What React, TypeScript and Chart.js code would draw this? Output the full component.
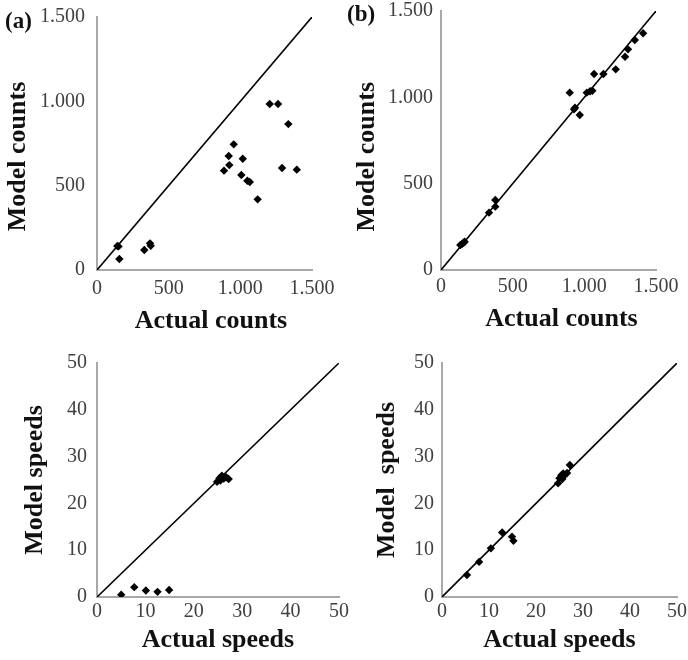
import React, { useEffect, useRef } from "react";
import { Chart, registerables } from "chart.js";

Chart.register(...registerables);

// ---- tick labels ----
const countTickValues = [0, 500, 1000, 1500];
const countTickLabels = ["0", "500", "1.000", "1.500"];
const speedTickValues = [0, 10, 20, 30, 40, 50];
const speedTickLabels = ["0", "10", "20", "30", "40", "50"];

// ---- panel (a): counts, before calibration ----
const aActualCounts = [142, 150, 156, 330, 370, 375, 886, 919, 923, 954, 1007, 1017, 1049, 1066, 1121, 1205, 1263, 1335, 1291, 1394];
const aModelCounts = [142, 140, 65, 119, 158, 144, 589, 676, 622, 745, 563, 660, 529, 522, 419, 984, 984, 865, 605, 595];

// ---- panel (b): counts, after calibration ----
const bActualCounts = [135, 148, 158, 165, 335, 379, 379, 898, 928, 935, 968, 1017, 1040, 1056, 1068, 1133, 1219, 1284, 1305, 1352, 1410];
const bModelCounts = [145, 152, 158, 164, 332, 367, 405, 1027, 931, 940, 898, 1027, 1035, 1038, 1135, 1135, 1162, 1235, 1278, 1332, 1371];

// ---- panel (c): speeds, before calibration ----
const cActualSpeeds = [5.0, 7.7, 10.1, 12.5, 14.9, 24.8, 25.3, 25.5, 25.8, 26.2, 26.7, 27.2];
const cModelSpeeds = [0.5, 2.1, 1.4, 1.1, 1.5, 24.6, 25.4, 24.9, 25.9, 25.3, 25.6, 25.2];

// ---- panel (d): speeds, after calibration ----
const dActualSpeeds = [5.3, 7.9, 10.4, 12.8, 14.9, 15.2, 24.7, 25.0, 25.4, 25.6, 25.8, 26.2, 26.6, 27.2];
const dModelSpeeds = [4.7, 7.5, 10.4, 13.8, 12.9, 12.0, 24.3, 25.4, 26.0, 25.2, 26.4, 26.1, 26.5, 28.2];

const W = 688;
const H = 660;
const FONT = '"Liberation Serif", "Times New Roman", serif';
const TITLE_SIZE = 26;
const TITLE_HALF = (TITLE_SIZE * 1.2) / 2;

type Panel = {
  xs: number[];
  ys: number[];
  max: number;
  step: number;
  tickValues: number[];
  tickLabels: string[];
  xTitle: string;
  yTitle: string;
  L: number;
  R: number;
  T: number;
  B: number;
  yTitleX: number;
  xTitleY: number;
  xTickPad: number;
  yTickPad: number;
};

const panels: Panel[] = [
  {
    xs: aActualCounts, ys: aModelCounts, max: 1500, step: 500,
    tickValues: countTickValues, tickLabels: countTickLabels,
    xTitle: "  Actual counts", yTitle: "Model counts    ",
    L: 97, R: 312, T: 17, B: 270, yTitleX: 18.5, xTitleY: 321, xTickPad: 7, yTickPad: 12,
  },
  {
    xs: bActualCounts, ys: bModelCounts, max: 1500, step: 500,
    tickValues: countTickValues, tickLabels: countTickLabels,
    xTitle: "    Actual counts", yTitle: "Model counts     ",
    L: 441, R: 656, T: 11, B: 270, yTitleX: 367, xTitleY: 319, xTickPad: 5, yTickPad: 8,
  },
  {
    xs: cActualSpeeds, ys: cModelSpeeds, max: 50, step: 10,
    tickValues: speedTickValues, tickLabels: speedTickLabels,
    xTitle: "Actual speeds", yTitle: "Model speeds",
    L: 97, R: 339, T: 363, B: 597, yTitleX: 35, xTitleY: 640, xTickPad: 3, yTickPad: 10,
  },
  {
    xs: dActualSpeeds, ys: dModelSpeeds, max: 50, step: 10,
    tickValues: speedTickValues, tickLabels: speedTickLabels,
    xTitle: "Actual speeds", yTitle: "Model  speeds",
    L: 442, R: 677, T: 363, B: 597, yTitleX: 387, xTitleY: 640, xTickPad: 3, yTickPad: 8,
  },
];

function zeroPadding(s: any) {
  s.paddingTop = 0;
  s.paddingBottom = 0;
  s.paddingLeft = 0;
  s.paddingRight = 0;
}

function makeConfig(p: Panel): any {
  const pts = p.xs.map((x, i) => ({ x, y: p.ys[i] }));
  const padLeft = p.yTitleX - TITLE_HALF;
  const yWidth = p.L - padLeft;
  const xHeight = p.xTitleY - p.B + TITLE_HALF;
  const fmt = (v: any) => {
    const i = p.tickValues.indexOf(Number(v));
    return i >= 0 ? p.tickLabels[i] : "";
  };
  const tickFont = { family: FONT, size: 20 };
  const titleFont = { family: FONT, size: TITLE_SIZE, weight: "bold" as const };
  const border = { display: true, color: "#a8a8a8", width: 2 };
  return {
    type: "scatter",
    data: {
      datasets: [
        {
          data: pts,
          pointStyle: "rectRot",
          pointRadius: 4.2,
          backgroundColor: "#000",
          borderColor: "#000",
          borderWidth: 0,
          showLine: false,
        },
        {
          data: [{ x: 0, y: 0 }, { x: p.max, y: p.max }],
          showLine: true,
          pointRadius: 0,
          borderColor: "#000",
          borderWidth: 1.6,
          fill: false,
        },
      ],
    },
    options: {
      animation: false,
      responsive: false,
      events: [],
      layout: {
        padding: { left: padLeft, right: W - p.R, top: p.T, bottom: H - p.B - xHeight },
      },
      plugins: { legend: { display: false }, tooltip: { enabled: false } },
      scales: {
        x: {
          type: "linear",
          min: 0,
          max: p.max,
          grid: { display: false, drawTicks: false },
          border,
          ticks: { stepSize: p.step, padding: p.xTickPad, color: "#404040", font: tickFont, callback: fmt, maxRotation: 0 },
          title: { display: true, text: p.xTitle, color: "#111", font: titleFont, padding: 0 },
          afterFit: (s: any) => {
            s.height = xHeight;
            zeroPadding(s);
          },
        },
        y: {
          type: "linear",
          min: 0,
          max: p.max,
          grid: { display: false, drawTicks: false },
          border,
          ticks: { stepSize: p.step, padding: p.yTickPad, color: "#404040", font: tickFont, callback: fmt },
          title: { display: true, text: p.yTitle, color: "#111", font: titleFont, padding: 0 },
          afterFit: (s: any) => {
            s.width = yWidth;
            zeroPadding(s);
          },
        },
      },
    },
  };
}

function ScatterPanel({ panel }: { panel: Panel }) {
  const ref = useRef<HTMLCanvasElement>(null);
  useEffect(() => {
    const chart = new Chart(ref.current as HTMLCanvasElement, makeConfig(panel));
    return () => chart.destroy();
  }, [panel]);
  return (
    <canvas
      ref={ref}
      width={W}
      height={H}
      style={{ position: "absolute", left: 0, top: 0, width: W, height: H }}
    />
  );
}

const labelStyle: React.CSSProperties = {
  position: "absolute",
  fontFamily: FONT,
  fontWeight: "bold",
  fontSize: 23,
  lineHeight: "23px",
  color: "#111",
  whiteSpace: "nowrap",
};

export default function App() {
  return (
    <div style={{ position: "absolute", left: 0, top: 0, width: W, height: H, background: "#fff", overflow: "hidden" }}>
      {panels.map((p, i) => (
        <ScatterPanel key={i} panel={p} />
      ))}
      <div style={{ ...labelStyle, left: 5, top: 9 }}>(a)</div>
      <div style={{ ...labelStyle, left: 347, top: 2 }}>(b)</div>
    </div>
  );
}
